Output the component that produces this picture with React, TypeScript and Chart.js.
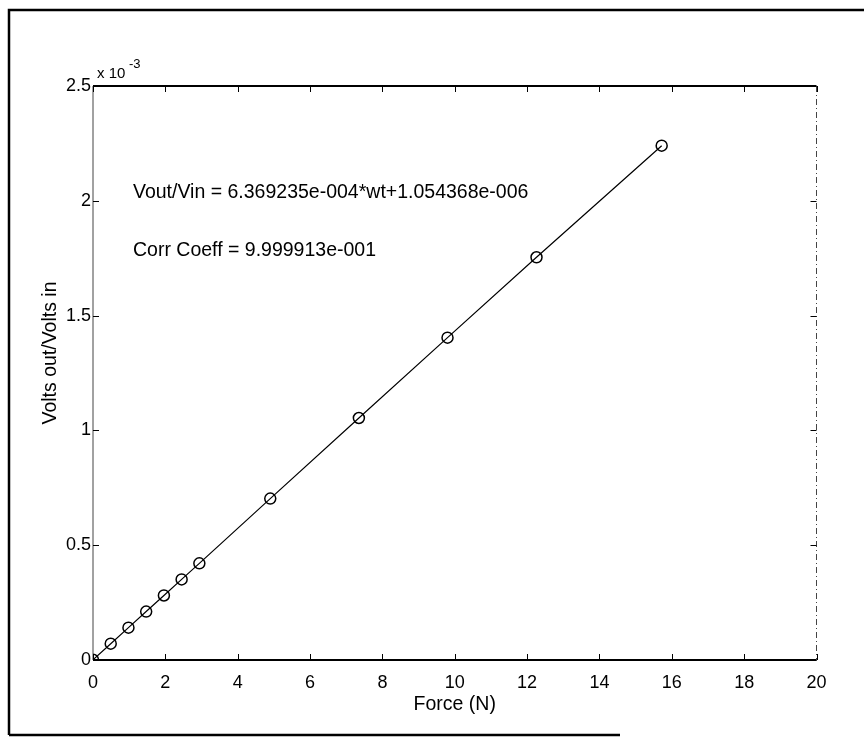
import React, { useEffect, useRef } from "react";
import { Chart, registerables } from "chart.js";

Chart.register(...registerables);

// ---- data ----
const forceN = [0, 0.49, 0.98, 1.47, 1.96, 2.45, 2.94, 4.9, 7.35, 9.8, 12.26, 15.72];
// Volts out / Volts in, in units of 1e-3
const voltsRatioE3 = [0.001, 0.071, 0.141, 0.211, 0.281, 0.351, 0.421, 0.703, 1.054, 1.404, 1.754, 2.24];
const xTickValues = [0, 2, 4, 6, 8, 10, 12, 14, 16, 18, 20];
const yTickValues = [0, 0.5, 1, 1.5, 2, 2.5];
const yTickLabels = ["0", "0.5", "1", "1.5", "2", "2.5"];
const xTitle = "Force (N)";
const yTitle = "Volts out/Volts in";
const exponentBase = "x 10";
const exponentPower = "-3";
const equationText = "Vout/Vin = 6.369235e-004*wt+1.054368e-006";
const corrText = "Corr Coeff = 9.999913e-001";

const FONT = "'Liberation Sans', Arial, Helvetica, sans-serif";

const decorPlugin = {
  id: "decor",
  afterDraw(chart: any) {
    const ctx = chart.ctx as CanvasRenderingContext2D;
    const { left, right, top, bottom } = chart.chartArea;
    const xs = chart.scales.x;
    const ys = chart.scales.y;
    ctx.save();
    // outer scanned frame
    ctx.strokeStyle = "#000";
    ctx.lineWidth = 2.5;
    ctx.beginPath();
    ctx.moveTo(9, 735);
    ctx.lineTo(9, 10);
    ctx.lineTo(864, 10);
    ctx.stroke();
    ctx.beginPath();
    ctx.moveTo(9, 735);
    ctx.lineTo(620, 735);
    ctx.stroke();

    // axes box
    ctx.lineWidth = 2;
    ctx.strokeStyle = "#000";
    ctx.beginPath();
    ctx.moveTo(left, top);
    ctx.lineTo(right, top);
    ctx.moveTo(left, bottom);
    ctx.lineTo(right, bottom);
    ctx.stroke();
    ctx.lineWidth = 1;
    ctx.strokeStyle = "#444";
    ctx.beginPath();
    ctx.moveTo(left, top);
    ctx.lineTo(left, bottom);
    ctx.stroke();
    ctx.setLineDash([6, 3, 1, 3]);
    ctx.beginPath();
    ctx.moveTo(right, top);
    ctx.lineTo(right, bottom);
    ctx.stroke();
    ctx.setLineDash([]);

    // inward ticks
    ctx.strokeStyle = "#000";
    ctx.lineWidth = 1;
    const tl = 6;
    ctx.beginPath();
    xTickValues.forEach((v) => {
      const px = Math.round(xs.getPixelForValue(v)) + 0.5;
      ctx.moveTo(px, bottom);
      ctx.lineTo(px, bottom - tl);
      ctx.moveTo(px, top);
      ctx.lineTo(px, top + tl);
    });
    yTickValues.forEach((v) => {
      const py = Math.round(ys.getPixelForValue(v)) + 0.5;
      ctx.moveTo(left, py);
      ctx.lineTo(left + tl, py);
      ctx.moveTo(right, py);
      ctx.lineTo(right - tl, py);
    });
    ctx.stroke();

    // exponent label
    ctx.fillStyle = "#000";
    ctx.textAlign = "left";
    ctx.textBaseline = "alphabetic";
    ctx.font = `15px ${FONT}`;
    ctx.fillText(exponentBase, 97, 78);
    ctx.font = `13px ${FONT}`;
    ctx.fillText(exponentPower, 129, 68);

    // annotations
    ctx.font = `19.5px ${FONT}`;
    ctx.fillText(equationText, 133, 198);
    ctx.fillText(corrText, 133, 256);

    // axis titles
    ctx.textAlign = "center";
    ctx.fillText(xTitle, (left + right) / 2, 710);
    ctx.save();
    ctx.translate(56, 353);
    ctx.rotate(-Math.PI / 2);
    ctx.fillText(yTitle, 0, 0);
    ctx.restore();

    ctx.restore();
  },
};

export default function App() {
  const ref = useRef<HTMLCanvasElement | null>(null);
  useEffect(() => {
    if (!ref.current) return;
    const chart = new Chart(ref.current, {
      type: "scatter",
      data: {
        datasets: [
          {
            data: forceN.map((x, i) => ({ x, y: voltsRatioE3[i] })),
            showLine: true,
            borderColor: "#000",
            borderWidth: 1.2,
            backgroundColor: "rgba(0,0,0,0)",
            pointStyle: "circle",
            pointRadius: 5.5,
            pointBorderWidth: 1.5,
            pointBorderColor: "#000",
            pointBackgroundColor: "rgba(0,0,0,0)",
            tension: 0,
          },
        ],
      },
      options: {
        responsive: false,
        animation: false,
        devicePixelRatio: 1,
        layout: { padding: { left: 0, top: 86, right: 47.5, bottom: 0 } },
        plugins: { legend: { display: false }, tooltip: { enabled: false }, title: { display: false } },
        scales: {
          x: {
            type: "linear",
            min: 0,
            max: 20,
            grid: { display: false, drawTicks: false },
            border: { display: false },
            afterBuildTicks: (s: any) => {
              s.ticks = xTickValues.map((v) => ({ value: v }));
            },
            afterFit: (s: any) => {
              s.height = 80;
            },
            ticks: {
              color: "#000",
              padding: 12,
              maxRotation: 0,
              font: { family: FONT, size: 18 },
              callback: (v: any) => String(v),
            },
          },
          y: {
            type: "linear",
            min: 0,
            max: 2.5,
            grid: { display: false, drawTicks: false },
            border: { display: false },
            afterBuildTicks: (s: any) => {
              s.ticks = yTickValues.map((v) => ({ value: v }));
            },
            afterFit: (s: any) => {
              s.width = 93;
            },
            ticks: {
              color: "#000",
              padding: 2,
              font: { family: FONT, size: 18 },
              callback: (v: any) => {
                const i = yTickValues.indexOf(Number(v));
                return i >= 0 ? yTickLabels[i] : "";
              },
            },
          },
        },
      },
      plugins: [decorPlugin],
    });
    return () => chart.destroy();
  }, []);

  return (
    <div style={{ position: "fixed", left: 0, top: 0, width: 864, height: 740, background: "#fff" }}>
      <canvas ref={ref} width={864} height={740} style={{ display: "block", width: 864, height: 740 }} />
    </div>
  );
}
